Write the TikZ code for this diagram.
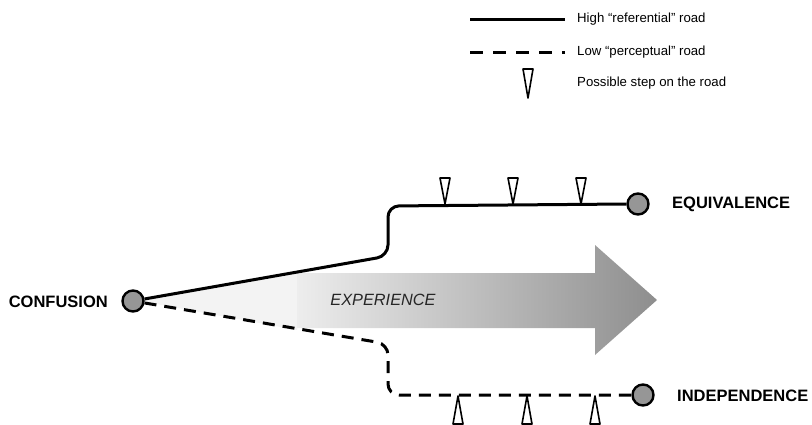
\documentclass[tikz,border=0pt]{standalone}
\usepackage{fontspec}
\setmainfont{Liberation Sans}
\definecolor{circfill}{HTML}{969696}
\definecolor{wedgefill}{HTML}{F3F3F3}
\definecolor{arrowlight}{HTML}{EDEDED}
\definecolor{arrowdark}{HTML}{8E8E8E}
\begin{document}
\begin{tikzpicture}[x=1pt,y=-1pt,
  state/.style={circle,draw=black,line width=2.4pt,fill=circfill,minimum size=21pt,inner sep=0pt},
  biglabel/.style={font=\fontsize{16.5}{18}\selectfont\bfseries,anchor=west,inner sep=0pt},
  legtext/.style={font=\fontsize{13.2}{15}\selectfont,anchor=west,inner sep=0pt},
  highroad/.style={line width=3pt,rounded corners=11pt},
  lowroad/.style={line width=3pt,dash pattern=on 12pt off 8pt,rounded corners=11pt},
  stepmark/.style={draw=black,line width=1.6pt,fill=white,line join=round}
]
\useasboundingbox (0,0) rectangle (812,424);

% experience arrow
\fill[wedgefill] (140,301) -- (297,271) -- (297,330) -- cycle;
\shade[left color=arrowlight,right color=arrowdark]
  (297,273) -- (595,273) -- (595,245) -- (657,300) -- (595,355) -- (595,328) -- (297,328) -- cycle;
\node[font=\fontsize{16.3}{18}\selectfont\itshape,text=black!85,inner sep=0pt] (exp) at (383,300) {EXPERIENCE};

% states
\node[state] (conf) at (133,301) {};
\node[state] (equi) at (638,204) {};
\node[state] (inde) at (643,395) {};
\node[biglabel,anchor=east] (confl) at (108,302) {CONFUSION};
\node[biglabel] (equil) at (672,204) {EQUIVALENCE};
\node[biglabel] (indel) at (677,396) {INDEPENDENCE};

% roads
\coordinate (h1) at (388,256);
\coordinate (h2) at (388,206);
\coordinate (l1) at (388,344);
\coordinate (l2) at (388,395);
\draw[highroad] (conf) -- (h1) -- (h2) -- (equi.west);
\draw[lowroad] (conf) -- (l1) -- (l2) -- (inde.west);

% steps on the roads
\foreach \x in {445,513,581}
  \draw[stepmark] (\x-5,178) -- (\x+5,178) -- (\x,204) -- cycle;
\foreach \x in {458,527,595}
  \draw[stepmark] (\x-5,424) -- (\x+5,424) -- (\x,396) -- cycle;

% legend
\coordinate (lsa) at (470,19);
\coordinate (lsb) at (565,19);
\coordinate (lda) at (470,52);
\coordinate (ldb) at (565,52);
\draw[line width=3pt] (lsa) -- (lsb);
\draw[line width=3pt,dash pattern=on 13pt off 10pt] (lda) -- (ldb);
\draw[stepmark] (523,69) -- (533,69) -- (528,98) -- cycle;
\node[legtext] (lt1) at (577,19) {High “referential” road};
\node[legtext] (lt2) at (577,52) {Low “perceptual” road};
\node[legtext] (lt3) at (577,83) {Possible step on the road};
\end{tikzpicture}
\end{document}
